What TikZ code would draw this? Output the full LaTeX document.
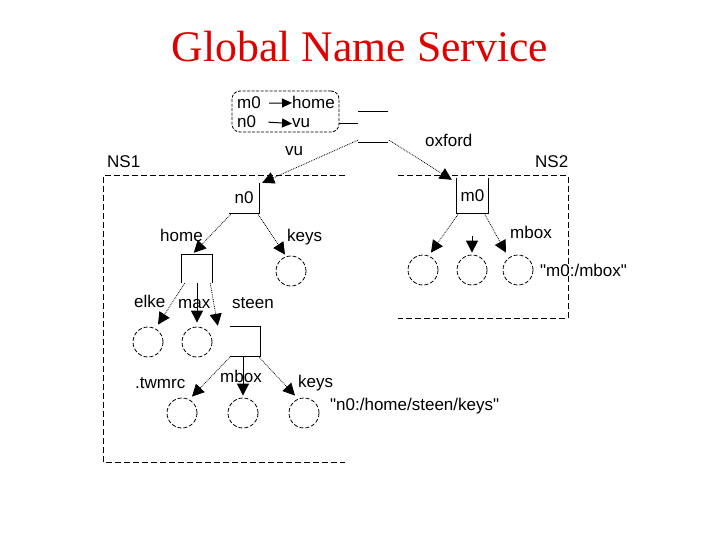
\documentclass[tikz,border=0pt]{standalone}
\usepackage{fontspec}
\setmainfont{Liberation Serif}
\newfontfamily\labfont{Liberation Sans}
\usetikzlibrary{arrows.meta}
\definecolor{titlered}{RGB}{225,0,0}
\tikzset{
  lbl/.style={font=\labfont\fontsize{17}{20}\selectfont, inner sep=0pt, anchor=base west},
  leaf/.style={circle, draw, line width=0.8pt, dash pattern=on 4pt off 2pt, minimum size=30pt, inner sep=0pt},
  edge/.style={line width=0.8pt, densely dotted, -{Triangle[length=12pt,width=12pt]}},
  vedge/.style={line width=1pt, -{Triangle[length=12pt,width=12pt]}},
  nsline/.style={line width=1pt, dash pattern=on 6pt off 3pt},
  boxnode/.style={font=\labfont\fontsize{17}{20}\selectfont, minimum width=30pt, minimum height=30pt, inner sep=0pt},
  part/.style={line width=1pt},
  tarrow/.style={line width=1pt, -{Triangle[length=10pt,width=9pt]}},
}
\begin{document}
\begin{tikzpicture}[x=1pt,y=-1pt]
\useasboundingbox (0,0) rectangle (720,540);
% title
\node[font=\fontsize{43.7}{50}\selectfont, text=titlered, anchor=base, inner sep=0pt] (title) at (360,62) {Global Name Service};

% name table
\node[draw, line width=0.8pt, dash pattern=on 3pt off 1.5pt, rounded corners=8pt, minimum width=107pt, minimum height=41pt, inner sep=0pt] (tbl) at (285.5,111.5) {};
\node[lbl] (t1a) at (237,109) {m0};
\node[lbl] (t1b) at (292,109) {home};
\node[lbl] (t2a) at (237,128) {n0};
\node[lbl] (t2b) at (292,128) {vu};
\draw[tarrow] ([xshift=8pt]t1a.east) -- (t1b.west);
\draw[tarrow] ([xshift=12pt]t2a.east) -- (t2b.west);

% root node
\node[minimum width=30pt, minimum height=30pt, inner sep=0pt] (root) at (373,127) {};
\draw[part] (root.north west) -- (root.north east);
\draw[part] (root.south west) -- (root.south east);
\draw[part] ([yshift=-12.5pt]tbl.east) -- ([yshift=3pt]root.west);

% name spaces
\draw[nsline] (345,176) -- (103,176) -- (103,462) -- (345,462);
\draw[nsline] (398,176) -- (568,176) -- (568,318) -- (398,318);
\node[lbl] (ns1) at (107,168) {NS1};
\node[lbl] (ns2) at (535,168) {NS2};

% directory nodes
\node[boxnode] (n0) at (244,198) {n0};
\draw[part] (n0.north east) -- (n0.south east) -- (n0.south west);
\node[boxnode, minimum width=31pt, minimum height=35pt] (m0) at (472.5,195.5) {m0};
\draw[part] (m0.north west) -- (m0.south west) -- (m0.south east) -- (m0.north east);
\node[boxnode, minimum height=28pt] (home) at (197,269) {};
\draw[part] (home.south west) -- (home.north west) -- (home.north east) -- (home.south east);
\node[boxnode, minimum height=29pt] (steen) at (245,341.5) {};
\draw[part] (steen.north west) -- (steen.north east) -- (steen.south east) -- (steen.south west);

% leaf nodes
\node[leaf] (keys1) at (291,271) {};
\node[leaf] (c1) at (423,270) {};
\node[leaf] (c2) at (472,270) {};
\node[leaf] (c3) at (518,270) {};
\node[leaf] (elke) at (148,342) {};
\node[leaf] (max) at (197,342) {};
\node[leaf] (twmrc) at (182,413) {};
\node[leaf] (mbox) at (243,413) {};
\node[leaf] (keys2) at (304,413) {};

% edges
\draw[edge] ([yshift=2pt]root.south west) -- ([xshift=3pt]n0.north east);
\draw[edge] ([xshift=1pt,yshift=2pt]root.south east) -- ([xshift=-5pt,yshift=-2pt]m0.north west);
\draw[edge] ([xshift=3pt]n0.south west) -- ([xshift=12pt,yshift=2pt]home.north west);
\draw[edge] ([xshift=-2pt]n0.south east) -- ([xshift=-6pt,yshift=1pt]keys1.north);
\draw[edge] ([xshift=2pt]m0.south west) -- ([xshift=8pt,yshift=2pt]c1.north);
\coordinate (c2top) at (472,236);
\draw[vedge] (c2top) -- ([yshift=2pt]c2.north);
\draw[edge] ([xshift=-4pt]m0.south east) -- ([xshift=-12pt,yshift=2pt]c3.north);
\draw[edge] ([xshift=3pt]home.south west) -- ([xshift=10pt,yshift=2pt]elke.north);
\draw[vedge] (home.south) -- ([yshift=4pt]max.north);
\draw[edge] ([xshift=-2pt]home.south east) -- ([xshift=-12pt,yshift=1pt]steen.north west);
\draw[edge] ([xshift=1pt]steen.south west) -- ([xshift=10pt,yshift=1pt]twmrc.north);
\draw[vedge] ([xshift=-2pt]steen.south) -- ([yshift=2pt]mbox.north);
\draw[edge] ([xshift=-2pt]steen.south east) -- ([xshift=-9pt,yshift=2pt]keys2.north);

% labels
\node[lbl] (lvu) at (285,156) {vu};
\node[lbl] (lox) at (425,147) {oxford};
\node[lbl] (lhome) at (160,241) {home};
\node[lbl] (lkeys1) at (287,241) {keys};
\node[lbl] (lmbox1) at (510,239) {mbox};
\node[lbl] (lm0) at (540,276) {"m0:/mbox"};
\node[lbl] (lelke) at (134,307) {elke};
\node[lbl] (lmax) at (178,308) {max};
\node[lbl] (lsteen) at (232,308) {steen};
\node[lbl] (ltw) at (135,388) {.twmrc};
\node[lbl] (lmbox2) at (220,382) {mbox};
\node[lbl] (lkeys2) at (298,387) {keys};
\node[lbl] (ln0) at (330,410) {"n0:/home/steen/keys"};
\end{tikzpicture}
\end{document}
